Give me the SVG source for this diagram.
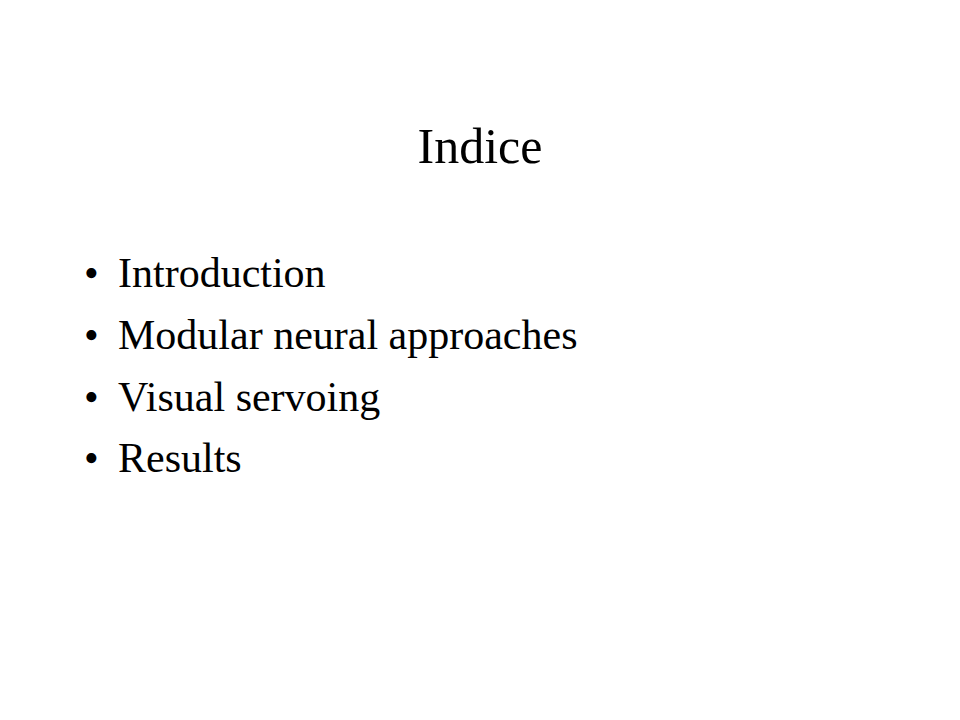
<svg xmlns="http://www.w3.org/2000/svg" width="960" height="720" viewBox="0 0 960 720">
<style>
text{font-family:"Liberation Serif","Times New Roman",serif;fill:#000}
.t{font-size:50px}
.b{font-size:42px}
</style>
<rect width="960" height="720" fill="#fff"/>
<g id="title"><text class="t" x="480" y="163" text-anchor="middle">Indice</text></g>
<g id="bullets">
<text class="b" x="84" y="287">•</text><text class="b" x="118" y="287">Introduction</text>
<text class="b" x="84" y="349">•</text><text class="b" x="118" y="349">Modular neural approaches</text>
<text class="b" x="84" y="411">•</text><text class="b" x="118" y="411">Visual servoing</text>
<text class="b" x="84" y="472">•</text><text class="b" x="118" y="472">Results</text>
</g>
</svg>
